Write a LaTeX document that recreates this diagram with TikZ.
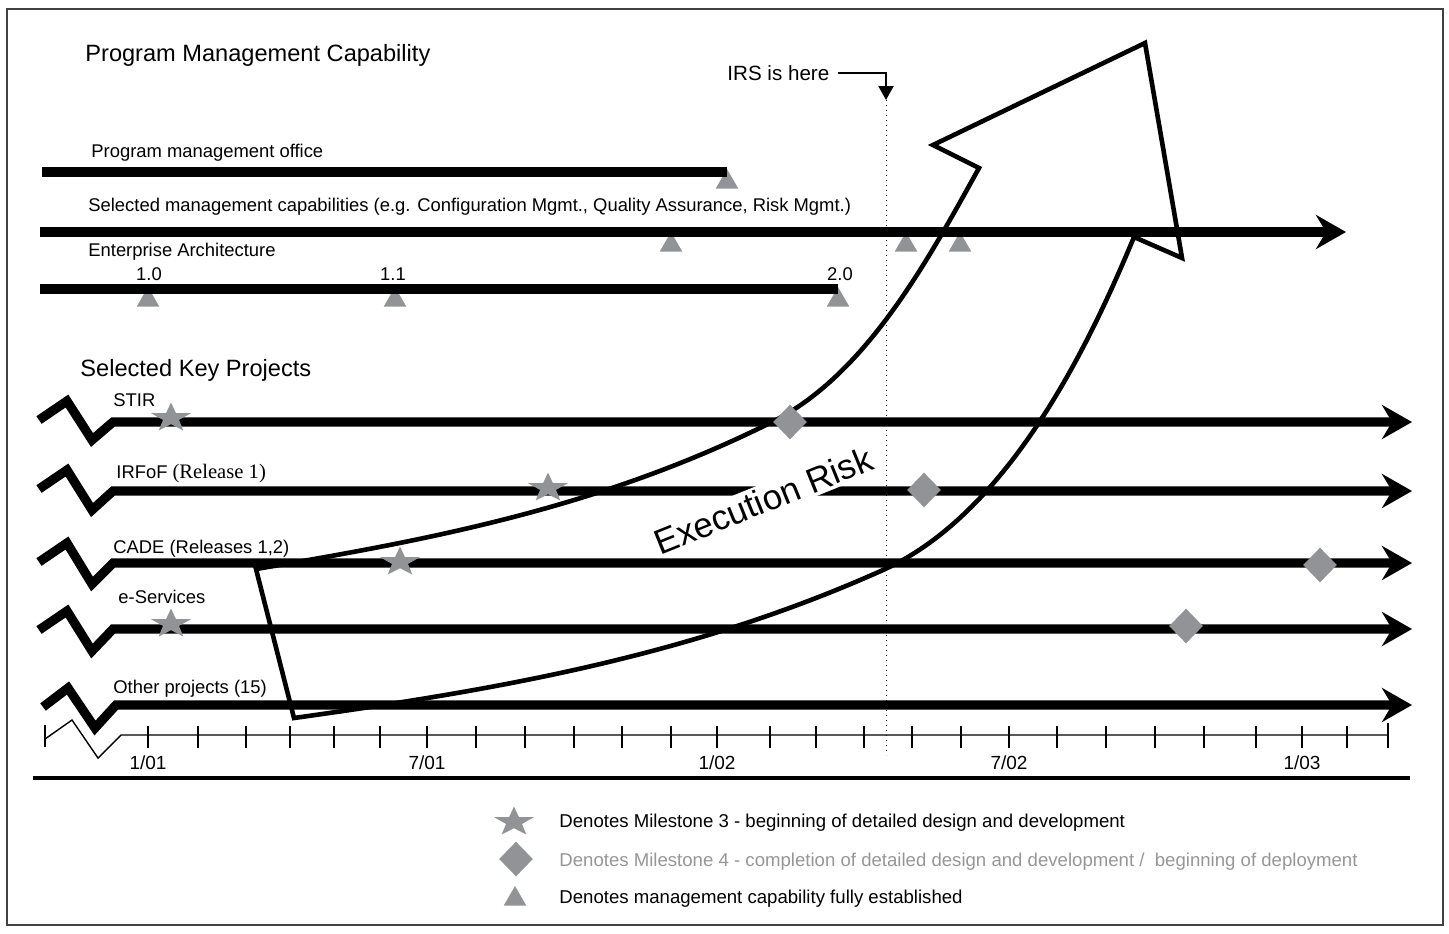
\documentclass[tikz,border=0pt]{standalone}
\usepackage{fontspec}
\setmainfont{Liberation Sans}
\newfontfamily\relfont{Liberation Serif}
\usetikzlibrary{arrows.meta,shapes.geometric}

\definecolor{mkgrey}{RGB}{146,147,151}
\definecolor{keygrey}{RGB}{150,150,150}
\definecolor{edgegrey}{RGB}{65,65,65}

\tikzset{
  bar/.style={line width=4.6pt, line join=miter},
  barend/.style={bar, -{Stealth[length=15pt, width=17pt, inset=5pt]}},
  riskedge/.style={line width=2.3pt, line join=miter},
  mfour/.style={diamond, fill=mkgrey, inner sep=0pt, minimum width=17pt, minimum height=17.5pt},
  mtri/.style={regular polygon, regular polygon sides=3, fill=mkgrey, inner sep=0pt, minimum size=13pt},
  mthree/.pic={\fill[mkgrey] (0,-15.5) -- (4.9,-5) -- (19.9,-4.8) -- (8,1.9) -- (12.3,12.5)
      -- (0,6.2) -- (-12.3,12.5) -- (-8,1.9) -- (-19.9,-4.8) -- (-4.9,-5) -- cycle;},
  head/.style={anchor=base west, inner sep=0pt, font=\fontsize{11.8}{14}\selectfont},
  lbl/.style={anchor=base west, inner sep=0pt, font=\fontsize{9.2}{11}\selectfont},
  datelbl/.style={anchor=base, inner sep=0pt, font=\fontsize{9.5}{11}\selectfont},
  key/.style={anchor=base west, inner sep=0pt, font=\fontsize{9.3}{11}\selectfont}
}

\begin{document}
\begin{tikzpicture}[x=0.5pt, y=-0.5pt]
    \useasboundingbox (0,0) rectangle (1449,933);
    \draw[edgegrey, line width=0.8pt] (7,9) rectangle (1443,925);

    % management capability
    \node[head] (pmc) at (85,61) {Program Management Capability};

    \node[mtri] (pmotri) at (727,182) {};
    \node[lbl] (pmo) at (91,157) {Program management office};
    \draw[bar] (42,172) -- (727,172);

    \node[mtri] (smctria) at (671,245) {};
    \node[mtri] (smctrib) at (906,245) {};
    \node[mtri] (smctric) at (960,245) {};
    \node[lbl] (smc) at (88,211) {Selected management capabilities (e.g. Configuration Mgmt., Quality Assurance, Risk Mgmt.)};
    \draw[barend] (40,232) -- (1346,232);

    \node[mtri] (eatria) at (148,300) {};
    \node[mtri] (eatrib) at (395,300) {};
    \node[mtri] (eatric) at (838,300) {};
    \node[lbl] (ea) at (88,256) {Enterprise Architecture};
    \node[lbl, anchor=base] (eaone) at (149,280) {1.0};
    \node[lbl, anchor=base] (eaonea) at (393,280) {1.1};
    \node[lbl, anchor=base] (eatwo) at (840,280) {2.0};
    \draw[bar] (40,289) -- (838,289);

    % today
    \node[anchor=base west, inner sep=0pt, font=\fontsize{10.3}{12}\selectfont] (irs) at (727,80) {IRS is here};
    \coordinate (now) at (886,100);
    \draw[line width=1pt, -{Triangle[length=7pt, width=7.5pt]}] ([xshift=4pt]irs.east) -| (now);
    \draw[dotted, line width=0.5pt] (now) -- (886,755);

    % key projects
    \node[head] (skp) at (80,376) {Selected Key Projects};

    \node[lbl] (stir) at (113,406) {STIR};
    \draw[barend] (39,420) -- (67,401) -- (92,440) -- (113,422) -- (1412,422);

    \node[lbl] (irfof) at (116,478) {IRFoF {\relfont\fontsize{10.3}{12}\selectfont (Release 1)}};
    \draw[barend] (39,489) -- (67,470) -- (92,510) -- (113,491) -- (1412,491);
    \node[fill=white, inner sep=1.5pt, rotate=22, anchor=base, font=\fontsize{17.5}{20}\selectfont] (risk) at (768,512) {Execution Risk};

    \node[lbl] (cade) at (113,553) {CADE (Releases 1,2)};
    \draw[barend] (39,562) -- (67,543) -- (92,584) -- (113,563) -- (1412,563);

    \node[lbl] (esvc) at (118,603) {e-Services};
    \draw[barend] (39,630) -- (67,611) -- (92,651) -- (113,629) -- (1412,629);

    \node[lbl] (other) at (113,693) {Other projects (15)};
    \draw[barend] (43,707) -- (68,688) -- (95,728) -- (116,705) -- (1412,705);

    % execution risk arrow
    \draw[riskedge] (256,569) -- (294,718)
        .. controls (490,690.6) and (687,658) .. (883,570)
        .. controls (1013,511.5) and (1094,333) .. (1134,237)
        -- (1182,258) -- (1145,43) -- (933,145) -- (979,168)
        .. controls (929,258) and (867,374.5) .. (772,422)
        .. controls (600,508) and (428,540) .. (256,569)
        -- cycle;

    % milestones
    \pic at (171,418) {mthree};
    \node[mfour] (stirfour) at (790,422) {};
    \pic at (548,488) {mthree};
    \node[mfour] (irfoffour) at (924,490) {};
    \pic at (400,562) {mthree};
    \node[mfour] (cadefour) at (1320,565) {};
    \pic at (171,624) {mthree};
    \node[mfour] (esvcfour) at (1186,626) {};

    % time line
    \draw[line width=0.7pt] (45,739) -- (72,720) -- (98,758) -- (121,735) -- (1388,735);
    \draw[line width=0.7pt] (45,725) -- (45,747) (148,726) -- (148,748) (198,726) -- (198,748)
        (246,726) -- (246,748) (290,726) -- (290,748) (334,726) -- (334,748) (380,726) -- (380,748)
        (427,726) -- (427,748) (476,726) -- (476,748) (525,726) -- (525,748) (574,726) -- (574,748)
        (622,726) -- (622,748) (671,726) -- (671,748) (717,726) -- (717,748) (770,726) -- (770,748)
        (816,726) -- (816,748) (864,726) -- (864,748) (912,726) -- (912,748) (961,726) -- (961,748)
        (1009,726) -- (1009,748) (1057,726) -- (1057,748) (1106,726) -- (1106,748) (1155,726) -- (1155,748)
        (1204,726) -- (1204,748) (1256,726) -- (1256,748) (1302,726) -- (1302,748) (1347,726) -- (1347,748)
        (1388,723) -- (1388,748);
    \node[datelbl] (jan01) at (148,769) {1/01};
    \node[datelbl] (jul01) at (427,769) {7/01};
    \node[datelbl] (jan02) at (717,769) {1/02};
    \node[datelbl] (jul02) at (1009,769) {7/02};
    \node[datelbl] (jan03) at (1302,769) {1/03};
    \draw[line width=2pt] (33,778) -- (1410,778);

    % legend
    \pic at (514,822) {mthree};
    \node[key] (keythree) at (559,827) {Denotes Milestone 3 - beginning of detailed design and development};
    \node[mfour] (keyfoursym) at (516,859) {};
    \node[key, text=keygrey] (keyfour) at (559,866) {Denotes Milestone 4 - completion of detailed design and development /\ \ beginning of deployment};
    \node[mtri] (keytrisym) at (515,899) {};
    \node[key] (keytri) at (559,903) {Denotes management capability fully established};
\end{tikzpicture}
\end{document}
